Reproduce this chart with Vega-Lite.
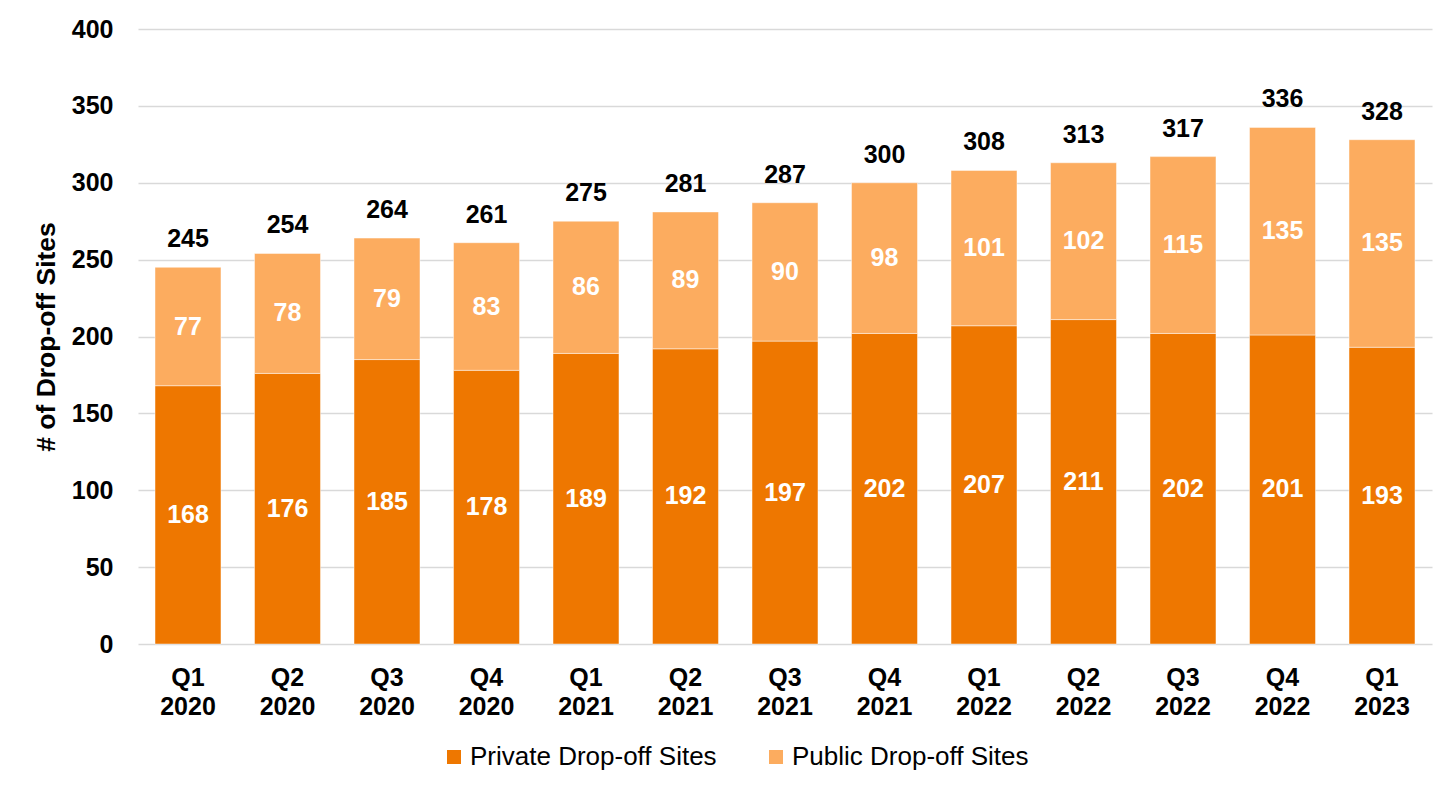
{
  "$schema": "https://vega.github.io/schema/vega-lite/v6.json",
  "width": 1294,
  "height": 615,
  "autosize": {"type": "none"},
  "padding": {"left": 138, "top": 29, "right": 19, "bottom": 144},
  "background": "white",
  "config": {
    "view": {"stroke": null},
    "font": "Liberation Sans",
    "text": {"font": "Liberation Sans"}
  },
  "data": {
    "values": [
      {"q": "Q1 2020", "series": "Private Drop-off Sites", "value": 168},
      {"q": "Q1 2020", "series": "Public Drop-off Sites", "value": 77},
      {"q": "Q2 2020", "series": "Private Drop-off Sites", "value": 176},
      {"q": "Q2 2020", "series": "Public Drop-off Sites", "value": 78},
      {"q": "Q3 2020", "series": "Private Drop-off Sites", "value": 185},
      {"q": "Q3 2020", "series": "Public Drop-off Sites", "value": 79},
      {"q": "Q4 2020", "series": "Private Drop-off Sites", "value": 178},
      {"q": "Q4 2020", "series": "Public Drop-off Sites", "value": 83},
      {"q": "Q1 2021", "series": "Private Drop-off Sites", "value": 189},
      {"q": "Q1 2021", "series": "Public Drop-off Sites", "value": 86},
      {"q": "Q2 2021", "series": "Private Drop-off Sites", "value": 192},
      {"q": "Q2 2021", "series": "Public Drop-off Sites", "value": 89},
      {"q": "Q3 2021", "series": "Private Drop-off Sites", "value": 197},
      {"q": "Q3 2021", "series": "Public Drop-off Sites", "value": 90},
      {"q": "Q4 2021", "series": "Private Drop-off Sites", "value": 202},
      {"q": "Q4 2021", "series": "Public Drop-off Sites", "value": 98},
      {"q": "Q1 2022", "series": "Private Drop-off Sites", "value": 207},
      {"q": "Q1 2022", "series": "Public Drop-off Sites", "value": 101},
      {"q": "Q2 2022", "series": "Private Drop-off Sites", "value": 211},
      {"q": "Q2 2022", "series": "Public Drop-off Sites", "value": 102},
      {"q": "Q3 2022", "series": "Private Drop-off Sites", "value": 202},
      {"q": "Q3 2022", "series": "Public Drop-off Sites", "value": 115},
      {"q": "Q4 2022", "series": "Private Drop-off Sites", "value": 201},
      {"q": "Q4 2022", "series": "Public Drop-off Sites", "value": 135},
      {"q": "Q1 2023", "series": "Private Drop-off Sites", "value": 193},
      {"q": "Q1 2023", "series": "Public Drop-off Sites", "value": 135}
    ]
  },
  "encoding": {
    "x": {
      "field": "q",
      "type": "nominal",
      "sort": null,
      "scale": {"paddingInner": 0.337, "paddingOuter": 0.171},
      "axis": {
        "title": null,
        "labelAngle": 0,
        "labelExpr": "split(datum.label, ' ')",
        "labelFont": "Liberation Sans",
        "labelFontSize": 25,
        "labelFontWeight": "bold",
        "labelColor": "black",
        "labelLineHeight": 29,
        "labelPadding": 21,
        "labelBaseline": "top",
        "domain": false,
        "ticks": false,
        "grid": false
      }
    }
  },
  "layer": [
    {
      "mark": {"type": "bar", "stroke": "white", "strokeWidth": 1, "strokeOpacity": 0.45},
      "encoding": {
        "y": {
          "field": "value",
          "type": "quantitative",
          "stack": "zero",
          "scale": {"domain": [0, 400], "nice": false},
          "axis": {
            "title": "# of Drop-off Sites",
            "titleFont": "Liberation Sans",
            "titleFontSize": 26.5,
            "titleFontWeight": "bold",
            "titleColor": "black",
            "titlePadding": 11,
            "values": [0, 50, 100, 150, 200, 250, 300, 350, 400],
            "labelFont": "Liberation Sans",
            "labelFontSize": 25,
            "labelFontWeight": "bold",
            "labelColor": "black",
            "labelPadding": 25,
            "domain": false,
            "ticks": false,
            "grid": true,
            "gridColor": "#d9d9d9",
            "gridWidth": 1.5
          }
        },
        "color": {
          "field": "series",
          "type": "nominal",
          "scale": {
            "domain": ["Private Drop-off Sites", "Public Drop-off Sites"],
            "range": ["#EE7700", "#FCAC5F"]
          },
          "legend": {
            "title": null,
            "orient": "none",
            "direction": "horizontal",
            "legendX": 303,
            "legendY": 715,
            "symbolType": "square",
            "symbolSize": 196,
            "symbolStrokeWidth": 0,
            "labelFont": "Liberation Sans",
            "labelFontSize": 26,
            "labelColor": "black",
            "labelLimit": 400,
            "labelOffset": 3,
            "columnPadding": 46
          }
        },
        "order": {"field": "series"}
      }
    },
    {
      "mark": {"type": "text", "color": "white", "fontWeight": "bold", "fontSize": 25, "baseline": "middle", "font": "Liberation Sans"},
      "encoding": {
        "y": {"field": "value", "type": "quantitative", "stack": "zero", "bandPosition": 0.5},
        "detail": {"field": "series"},
        "order": {"field": "series"},
        "text": {"field": "value", "type": "quantitative"}
      }
    },
    {
      "transform": [{"aggregate": [{"op": "sum", "field": "value", "as": "total"}], "groupby": ["q"]}],
      "mark": {"type": "text", "color": "black", "fontWeight": "bold", "fontSize": 25, "baseline": "alphabetic", "dy": -20, "font": "Liberation Sans"},
      "encoding": {
        "y": {"field": "total", "type": "quantitative"},
        "text": {"field": "total", "type": "quantitative"}
      }
    }
  ]
}
